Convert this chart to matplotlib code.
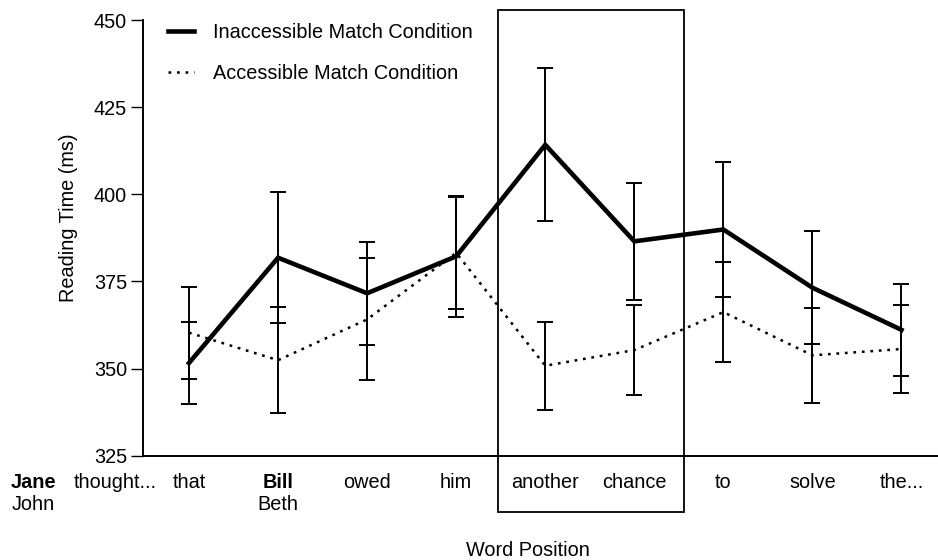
import matplotlib
matplotlib.use("Agg")
import matplotlib.pyplot as plt
import matplotlib.transforms as mtransforms
from matplotlib.patches import Rectangle
import numpy as np

plt.rcParams['font.family'] = ['Liberation Sans', 'DejaVu Sans']

# ---- data ----
words = ['that', 'Bill', 'owed', 'him', 'another', 'chance', 'to', 'solve', 'the...']
words_row2 = ['', 'Beth', '', '', '', '', '', '', '']
bold_words = ['Bill']
inacc_mean = [351.6, 381.8, 371.6, 382.2, 414.2, 386.5, 389.9, 373.2, 361.1]
inacc_err = [11.9, 18.8, 14.7, 17.3, 21.9, 16.7, 19.5, 16.2, 13.2]
acc_mean = [360.3, 352.4, 364.1, 383.2, 350.8, 355.3, 366.2, 353.8, 355.6]
acc_err = [13.2, 15.2, 17.5, 16.0, 12.7, 12.9, 14.3, 13.7, 12.6]
yticks = [325, 350, 375, 400, 425, 450]
pre_words_row1 = ['Jane', 'thought...']
pre_words_row2 = ['John', '']
pre_positions = [-0.75, 0.17]
label_inacc = 'Inaccessible Match Condition'
label_acc = 'Accessible Match Condition'
box_span = (4.47, 6.56)   # region boxed: "another chance"

x = np.arange(1, len(words) + 1)

fig = plt.figure(figsize=(9.38, 5.6), dpi=100)
ax = fig.add_axes([143.3 / 938, (560 - 455.7) / 560, (938 - 143.3) / 938, 435.7 / 560])

fs = 14.3

# error bars (solid for both)
ax.errorbar(x, acc_mean, yerr=acc_err, fmt='none', ecolor='black', elinewidth=1.4,
            capsize=6, capthick=1.4, zorder=2)
ax.errorbar(x, inacc_mean, yerr=inacc_err, fmt='none', ecolor='black', elinewidth=1.4,
            capsize=6, capthick=1.4, zorder=2)

ax.plot(x, inacc_mean, color='black', lw=3.3, solid_joinstyle='miter', label=label_inacc, zorder=3)
ax.plot(x, acc_mean, color='black', lw=1.8, linestyle=(0, (1.1, 2.3)), label=label_acc, zorder=3)

ax.set_xlim(0.487, 9.41)
ax.set_ylim(325, 450)
ax.set_yticks(yticks)
ax.tick_params(axis='y', length=8.4, width=1.0, pad=3.4, labelsize=fs, direction='out')
ax.set_xticks([])
for s in ['top', 'right']:
    ax.spines[s].set_visible(False)
ax.spines['left'].set_linewidth(1.4)
ax.spines['bottom'].set_linewidth(1.4)

ax.set_ylabel('Reading Time (ms)', fontsize=fs)
ax.yaxis.set_label_coords(-0.082, 0.546)

# x labels rows
trans = mtransforms.blended_transform_factory(ax.transData, ax.transAxes)
row1_y = -0.0620
row2_y = -0.1115
for xi, w in zip(x, words):
    ax.text(xi, row1_y, w, transform=trans, ha='center', va='center', fontsize=fs,
            fontweight='bold' if w in bold_words else 'normal', clip_on=False)
for xi, w in zip(x, words_row2):
    if w:
        ax.text(xi, row2_y, w, transform=trans, ha='center', va='center', fontsize=fs, clip_on=False)
for px, w1, w2 in zip(pre_positions, pre_words_row1, pre_words_row2):
    ax.text(px, row1_y, w1, transform=trans, ha='center', va='center', fontsize=fs,
            fontweight='bold' if w1 == 'Jane' else 'normal', clip_on=False)
    if w2:
        ax.text(px, row2_y, w2, transform=trans, ha='center', va='center', fontsize=fs, clip_on=False)

fig.text(528 / 938, 1 - 551 / 560, 'Word Position', ha='center', va='center', fontsize=fs)

# box around the critical region
rect = Rectangle((box_span[0], -0.130), box_span[1] - box_span[0], 1.153, transform=trans,
                 fill=False, edgecolor='black', lw=1.3, clip_on=False, zorder=1)
ax.add_patch(rect)

leg = ax.legend(loc='upper left', bbox_to_anchor=(168 / 938, 1 - 23.2 / 560),
                bbox_transform=fig.transFigure, frameon=False, fontsize=fs,
                handlelength=1.3, handletextpad=0.95, labelspacing=1.12,
                borderpad=0, borderaxespad=0)

fig.savefig('out.png', dpi=100)
